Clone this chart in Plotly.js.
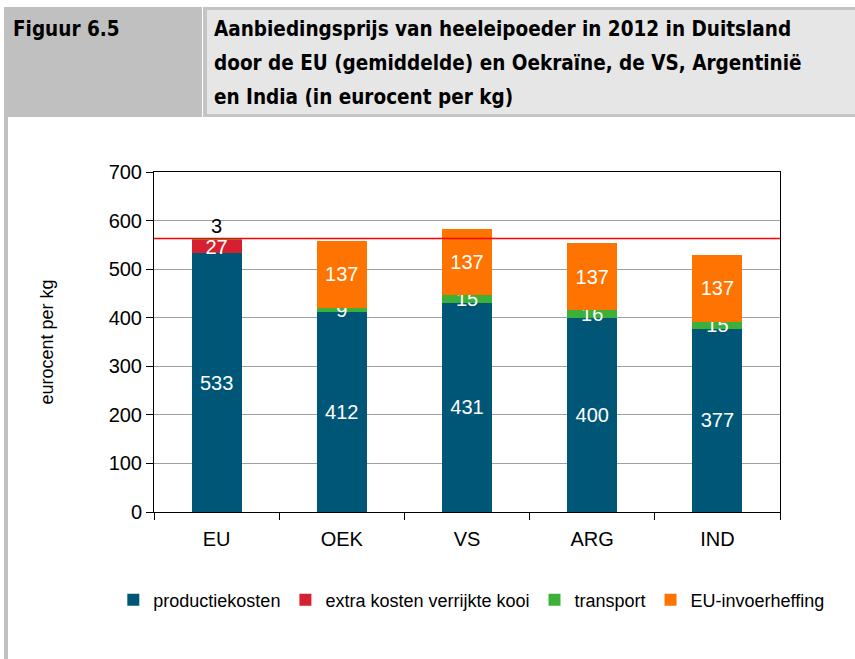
<!DOCTYPE html>
<html>
<head>
<meta charset="utf-8">
<script src="https://cdn.plot.ly/plotly-3.0.1.min.js"></script>
<style>
  html, body { margin: 0; padding: 0; background: #fff; }
  #page { position: relative; width: 855px; height: 659px; overflow: hidden; background: #fff; }
  #stripe { position: absolute; left: 4px; top: 7px; width: 4px; height: 652px; background: #c0c0c0; }
  #hdrLeft { position: absolute; left: 4px; top: 7px; width: 198px; height: 110px; background: #c0c0c0; }
  #hdrRight { position: absolute; left: 203px; top: 7px; width: 652px; height: 110px; background: #c4c4c4; }
  #hdrRightIn { position: absolute; left: 207px; top: 10px; width: 648px; height: 104px; background: #e6e6e6; }
  .hdrtxt { position: absolute; font-family: "DejaVu Sans Condensed", "DejaVu Sans", sans-serif; font-weight: bold; font-size: 20.5px; color: #000; line-height: 34px; white-space: nowrap; }
  #fig { left: 13px; top: 12px; }
  #ttl { left: 214px; top: 12px; }
  #chart { position: absolute; left: 0; top: 0; width: 855px; height: 659px; }
</style>
</head>
<body>
<div id="page">
  <div id="stripe"></div>
  <div id="hdrLeft"></div>
  <div id="hdrRight"></div>
  <div id="hdrRightIn"></div>
  <div class="hdrtxt" id="fig">Figuur 6.5</div>
  <div class="hdrtxt" id="ttl">Aanbiedingsprijs van heeleipoeder in 2012 in Duitsland<br>door de EU (gemiddelde) en Oekraïne, de VS, Argentinië<br>en India (in eurocent per kg)</div>
  <div id="chart"></div>
</div>
<script>
const categories = ["EU", "OEK", "VS", "ARG", "IND"];
const productiekosten = [533, 412, 431, 400, 377];
const extraKosten = [27, 0, 0, 0, 0];
const transport = [3, 9, 15, 16, 15];
const invoerheffing = [0, 137, 137, 137, 137];
const referentieNiveau = 563;
const yTicks = [0, 100, 200, 300, 400, 500, 600, 700];

const seriesNames = ["productiekosten", "extra kosten verrijkte kooi", "transport", "EU-invoerheffing"];
const seriesData = [productiekosten, extraKosten, transport, invoerheffing];
const colors = ["#005676", "#d42030", "#3cb038", "#ff7300"];
const FONT = "Liberation Sans, Arial, sans-serif";
const labelFont = { family: FONT, size: 20, color: "#ffffff" };

const traces = seriesData.map((vals, i) => ({
  type: "bar",
  name: seriesNames[i],
  x: categories,
  y: vals,
  marker: { color: colors[i], line: { width: 0 } },
  width: 0.4,
  text: vals.map((v, j) => (v === 0 || (i === 2 && j === 0)) ? "" : String(v)),
  textposition: "inside",
  insidetextanchor: "middle",
  constraintext: "none",
  textfont: labelFont,
  textangle: 0,
  hoverinfo: "skip",
  cliponaxis: false
}));

// label for the small EU transport segment placed above the bar
const euTop = productiekosten[0] + extraKosten[0] + transport[0];
const annotations = [{
  x: categories[0], y: euTop, xref: "x", yref: "y",
  text: String(transport[0]), showarrow: false, yanchor: "bottom", yshift: 0,
  font: { family: FONT, size: 20, color: "#000" }
}];

const layout = {
  width: 855, height: 659,
  paper_bgcolor: "rgba(0,0,0,0)",
  plot_bgcolor: "#ffffff",
  margin: { l: 154, r: 75, t: 172, b: 147, pad: 0, autoexpand: false },
  barmode: "stack",
  showlegend: true,
  legend: {
    orientation: "h", x: -0.065, xanchor: "left", xref: "paper",
    y: -0.259, yanchor: "middle",
    font: { family: FONT, size: 18, color: "#000" },
    traceorder: "normal", itemwidth: 30,
    tracegroupgap: 0
  },
  xaxis: {
    type: "category",
    showline: true, linecolor: "#000", linewidth: 1, mirror: true,
    ticks: "outside", tickson: "boundaries", ticklen: 7, tickcolor: "#000",
    ticklabelstandoff: 9,
    tickfont: { family: FONT, size: 20, color: "#000" },
    showgrid: false, zeroline: false
  },
  yaxis: {
    range: [0, 700],
    tickvals: yTicks,
    showline: true, linecolor: "#000", linewidth: 1, mirror: true,
    ticks: "outside", ticklen: 7, tickcolor: "#000",
    showgrid: true, gridcolor: "#a0a0a0", gridwidth: 1,
    zeroline: false,
    tickfont: { family: FONT, size: 20, color: "#000" },
    title: { text: "eurocent per kg", standoff: 50,
      font: { family: FONT, size: 18, color: "#000" } }
  },
  shapes: [{
    type: "line", xref: "paper", yref: "y",
    x0: 0, x1: 1, y0: referentieNiveau, y1: referentieNiveau,
    line: { color: "#ff0000", width: 1.5 }, layer: "above"
  }],
  annotations: annotations,
  font: { family: FONT }
};

Plotly.newPlot("chart", traces, layout, { displayModeBar: false, staticPlot: true });
</script>
</body>
</html>
